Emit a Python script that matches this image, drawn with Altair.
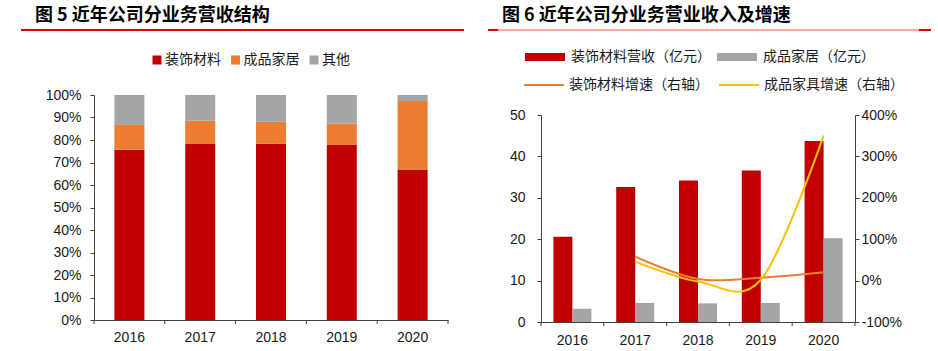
import altair as alt
import pandas as pd

# ---------------- data ----------------
years = ["2016", "2017", "2018", "2019", "2020"]

# 图5: revenue structure (share, %)
seg_names = ["装饰材料", "成品家居", "其他"]
share_deco = [75.6, 78.2, 78.3, 77.8, 66.7]
share_home = [11.1, 10.4, 9.8, 9.5, 30.6]
share_other = [13.3, 11.4, 11.9, 12.7, 2.7]
seg_colors = ["#C00000", "#ED7D31", "#A5A5A5"]

# 图6: revenue (亿元) and growth (%)
bar_names = ["装饰材料营收（亿元）", "成品家居（亿元）"]
rev_deco = [20.6, 32.6, 34.2, 36.6, 43.7]
rev_home = [3.2, 4.6, 4.5, 4.6, 20.2]
bar_colors = ["#C00000", "#A5A5A5"]

line_names = ["装饰材料增速（右轴）", "成品家具增速（右轴）"]
growth_deco = [None, 58, 4, 7, 20]
growth_home = [None, 46, -2, 2, 350]
line_colors = ["#ED7D31", "#FFC000"]

title_left = "图 5 近年公司分业务营收结构"
title_right = "图 6 近年公司分业务营业收入及增速"

pct_ticks = [i / 10 for i in range(11)]
rev_ticks = [0, 10, 20, 30, 40, 50]
growth_ticks = [-100, 0, 100, 200, 300, 400]

# ---------------- styles ----------------
CJK = "Noto Sans CJK SC"
NUM = "Liberation Sans"
AXC = "#404040"
TXT = "#1a1a1a"

# ---------------- tables ----------------
share_rows = []
for i, y in enumerate(years):
    for k, (name, vals) in enumerate(zip(seg_names, [share_deco, share_home, share_other])):
        share_rows.append({"year": y, "seg": name, "share": vals[i] / 100, "k": k})
share_df = pd.DataFrame(share_rows)

bar_rows = []
for i, y in enumerate(years):
    for name, vals in zip(bar_names, [rev_deco, rev_home]):
        bar_rows.append({"year": y, "series": name, "value": vals[i]})
bar_df = pd.DataFrame(bar_rows)

line_rows = []
for name, vals in zip(line_names, [growth_deco, growth_home]):
    for i, y in enumerate(years):
        if vals[i] is not None:
            line_rows.append({"year": y, "line": name, "growth": vals[i]})
line_df = pd.DataFrame(line_rows)

bounds_df = pd.DataFrame({"b": list(range(len(years) + 1))})

# ---------------- left chart ----------------
W1, H1 = 354, 225

bars_l = alt.Chart(share_df).mark_bar().encode(
    x=alt.X("year:N", scale=alt.Scale(domain=years, paddingInner=0.576, paddingOuter=0.288),
            axis=alt.Axis(title=None, labelAngle=0, ticks=False, tickSize=0, labelPadding=10)),
    y=alt.Y("share:Q", stack="zero", scale=alt.Scale(domain=[0, 1], nice=False),
            axis=alt.Axis(title=None, values=pct_ticks, format=".0%", tickSize=4, labelPadding=9)),
    color=alt.Color("seg:N", scale=alt.Scale(domain=seg_names, range=seg_colors),
                    legend=alt.Legend(orient="none", legendX=56, legendY=-42, direction="horizontal",
                                      columns=3, title=None, symbolType="square", symbolSize=81,
                                      symbolStrokeWidth=0, labelFont=CJK, labelFontSize=14,
                                      labelColor=TXT, labelOffset=1, columnPadding=7.5)),
    order=alt.Order("k:Q", sort="ascending"),
)

ticks_l = alt.Chart(bounds_df).mark_rule(color=AXC, strokeWidth=1).encode(
    x=alt.X("b:Q", scale=alt.Scale(domain=[0, len(years)], nice=False, zero=False), axis=None),
    y=alt.value(H1), y2=alt.value(H1 + 4),
)

title_l = alt.Chart(pd.DataFrame({"t": [title_left]})).mark_text(
    align="left", baseline="middle", font=CJK, fontSize=18, fontWeight="bold", color="#000000"
).encode(text="t:N", x=alt.value(-59), y=alt.value(-79.5))

rule_l = alt.Chart(pd.DataFrame({"a": [0]})).mark_rule(color="#E00000", strokeWidth=2).encode(
    x=alt.value(-73), x2=alt.value(370), y=alt.value(-65))

left = alt.layer(bars_l, ticks_l, title_l, rule_l).resolve_scale(x="independent").properties(
    width=W1, height=H1)

# ---------------- right chart ----------------
W2, H2 = 314, 227
TOP2 = 20
xscale_r = alt.Scale(domain=years, paddingInner=0.395, paddingOuter=0.1975)

bars_r = alt.Chart(bar_df).mark_bar().encode(
    x=alt.X("year:N", scale=xscale_r,
            axis=alt.Axis(title=None, labelAngle=0, ticks=False, tickSize=0, labelPadding=11)),
    xOffset=alt.XOffset("series:N", scale=alt.Scale(domain=bar_names, paddingInner=0, paddingOuter=0)),
    y=alt.Y("value:Q", scale=alt.Scale(domain=[0, 50], range=[H2, TOP2], nice=False),
            axis=alt.Axis(title=None, values=rev_ticks, tickSize=4, labelPadding=12)),
    color=alt.Color("series:N", scale=alt.Scale(domain=bar_names, range=bar_colors),
                    legend=alt.Legend(orient="none", legendX=-16, legendY=-58, columns=2, title=None,
                                      symbolType="M-1,-0.2H1V0.2H-1Z", symbolSize=1600,
                                      symbolStrokeWidth=0, labelFont=CJK, labelFontSize=14,
                                      labelColor=TXT, labelOffset=6, columnPadding=6)),
)

lines_r = alt.Chart(line_df).mark_line(strokeWidth=2, interpolate="cardinal").encode(
    x=alt.X("year:N", scale=xscale_r, axis=None),
    y=alt.Y("growth:Q", scale=alt.Scale(domain=[-100, 400], range=[H2, TOP2], nice=False),
            axis=alt.Axis(title=None, orient="right", values=growth_ticks,
                          labelExpr="datum.value + '%'", tickSize=4, labelPadding=2)),
    stroke=alt.Stroke("line:N", scale=alt.Scale(domain=line_names, range=line_colors),
                      legend=alt.Legend(orient="none", legendX=-18, legendY=-31, columns=2, title=None,
                                        symbolType="stroke", symbolSize=1600, symbolStrokeWidth=2,
                                        labelFont=CJK, labelFontSize=14, labelColor=TXT,
                                        labelOffset=4, columnPadding=6)),
)

ticks_r = alt.Chart(bounds_df).mark_rule(color=AXC, strokeWidth=1).encode(
    x=alt.X("b:Q", scale=alt.Scale(domain=[0, len(years)], nice=False, zero=False), axis=None),
    y=alt.value(H2), y2=alt.value(H2 + 4),
)

title_r = alt.Chart(pd.DataFrame({"t": [title_right]})).mark_text(
    align="left", baseline="middle", font=CJK, fontSize=18, fontWeight="bold", color="#000000"
).encode(text="t:N", x=alt.value(-39), y=alt.value(-79.5))

rule_r = alt.Chart(pd.DataFrame({"a": [0]})).mark_rule(color="#FFA6A6", strokeWidth=2).encode(
    x=alt.value(-53), x2=alt.value(390), y=alt.value(-65))
rule_r1 = alt.Chart(pd.DataFrame({"a": [0]})).mark_rule(color="#E00000", strokeWidth=2).encode(
    x=alt.value(-53), x2=alt.value(-43), y=alt.value(-65))
rule_r2 = alt.Chart(pd.DataFrame({"a": [0]})).mark_rule(color="#E00000", strokeWidth=2).encode(
    x=alt.value(378), x2=alt.value(390), y=alt.value(-65))

right = alt.layer(bars_r, lines_r, ticks_r, title_r, rule_r, rule_r1, rule_r2).resolve_scale(
    x="independent", y="independent").properties(width=W2, height=H2)

# ---------------- combine ----------------
chart = alt.hconcat(left, right, spacing=93, bounds="flush").resolve_scale(
    color="independent", stroke="independent"
).properties(
    padding={"left": 20, "top": 6, "right": 4, "bottom": 2}, background="white"
).configure_view(stroke=None).configure_axis(
    labelFont=NUM, labelFontSize=14, labelColor=TXT, domainColor=AXC, tickColor=AXC,
    domainWidth=1, tickWidth=1, grid=False
)

chart.save("out.html", embed_options={"renderer": "svg", "actions": False})
